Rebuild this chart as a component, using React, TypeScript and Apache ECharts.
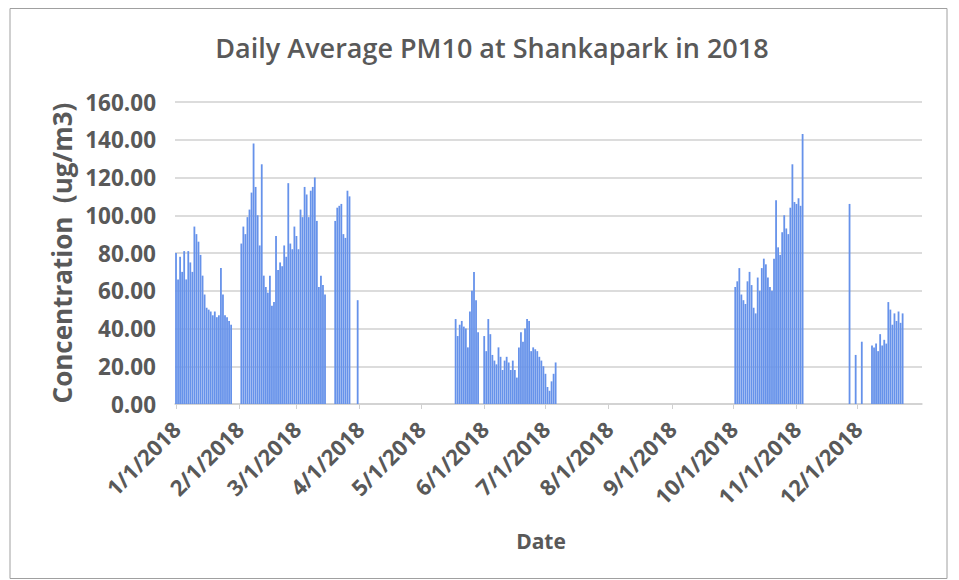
import React, { useEffect, useRef } from "react";
import * as echarts from "echarts";

// ---- Data (daily average PM10, ug/m3) ----
const monthStartDates = [
  "2018-01-01", "2018-02-01", "2018-03-01", "2018-04-01", "2018-05-01", "2018-06-01",
  "2018-07-01", "2018-08-01", "2018-09-01", "2018-10-01", "2018-11-01", "2018-12-01",
];
const monthLabels = [
  "1/1/2018", "2/1/2018", "3/1/2018", "4/1/2018", "5/1/2018", "6/1/2018",
  "7/1/2018", "8/1/2018", "9/1/2018", "10/1/2018", "11/1/2018", "12/1/2018",
];

const janStart = "2018-01-01";
const janValues = [80, 66, 78, 70, 81, 66, 81, 75, 70, 94, 90, 86, 79, 68, 58, 51, 50, 49, 47, 49, 46, 47, 72, 58, 47, 46, 44, 42];

const febMarStart = "2018-02-02";
const febMarValues = [85, 94, 90, 99, 103, 112, 138, 115, 100, 84, 127, 68, 62, 59, 68, 52, 54, 89, 71, 75, 73, 84, 78, 117, 85, 82, 94, 89, 82, 103, 99, 115, 111, 99, 113, 115, 120, 97, 62, 68, 63, 58];

const lateMarStart = "2018-03-20";
const lateMarValues = [97, 104, 105, 106, 90, 88, 113, 110];

const mar31Start = "2018-03-31";
const mar31Values = [55];

const mayStart = "2018-05-18";
const mayValues = [45, 36, 42, 44, 41, 40, 30, 49, 60, 70, 55, 38];

const junJulStart = "2018-06-01";
const junJulValues = [36, 28, 45, 37, 26, 23, 21, 30, 25, 18, 23, 25, 22, 18, 23, 18, 14, 30, 38, 33, 40, 45, 44, 28, 30, 29, 28, 25, 23, 20, 16, 9, 7, 12, 16, 22];

const octNovStart = "2018-10-02";
const octNovValues = [62, 65, 72, 58, 55, 53, 65, 70, 63, 51, 48, 67, 60, 72, 77, 74, 67, 62, 60, 77, 108, 83, 79, 91, 100, 93, 90, 104, 127, 107, 106, 109, 105, 143];

const lateNovDates = ["2018-11-27", "2018-11-30", "2018-12-03"];
const lateNovValues = [106, 26, 33];

const decStart = "2018-12-08";
const decValues = [31, 30, 32, 28, 37, 31, 34, 32, 54, 50, 42, 48, 44, 49, 43, 48];

// ---- helpers ----
const DAY = 86400000;
const yearStart = Date.UTC(2018, 0, 1);
function dayIndex(iso: string): number {
  const [y, m, d] = iso.split("-").map(Number);
  return Math.round((Date.UTC(y, m - 1, d) - yearStart) / DAY);
}
function segment(start: string, values: number[]): [number, number][] {
  const s = dayIndex(start);
  return values.map((v, i) => [s + i, v]);
}

const seriesData: [number, number][] = [
  ...segment(janStart, janValues),
  ...segment(febMarStart, febMarValues),
  ...segment(lateMarStart, lateMarValues),
  ...segment(mar31Start, mar31Values),
  ...segment(mayStart, mayValues),
  ...segment(junJulStart, junJulValues),
  ...segment(octNovStart, octNovValues),
  ...lateNovDates.map((d, i) => [dayIndex(d), lateNovValues[i]] as [number, number]),
  ...segment(decStart, decValues),
];

const monthDays = monthStartDates.map(dayIndex);

const FONT = "'Open Sans', 'Liberation Sans', sans-serif";
const TEXT = "#595959";

export default function App() {
  const ref = useRef<HTMLDivElement>(null);
  useEffect(() => {
    if (!ref.current) return;
    const chart = echarts.init(ref.current, null, { renderer: "svg" });
    chart.setOption({
      animation: false,
      backgroundColor: "#ffffff",
      textStyle: { fontFamily: FONT },
      title: {
        text: "Daily Average PM10 at Shankapark in 2018",
        left: 479,
        top: 21,
        textAlign: "center",
        textStyle: { fontFamily: FONT, fontSize: 27, fontWeight: 600, color: TEXT },
      },
      grid: { left: 167, top: 94, width: 747, height: 302, containLabel: false },
      xAxis: {
        type: "value",
        min: -0.5,
        max: 365.5,
        splitLine: { show: false },
        axisLine: { show: true, lineStyle: { color: "#d0d0d0", width: 1.5 } },
        axisTick: {
          show: true,
          customValues: monthDays,
          length: 5,
          lineStyle: { color: "#d0d0d0" },
        },
        axisLabel: {
          customValues: monthDays,
          rotate: 45,
          margin: 21,
          fontSize: 22,
          fontWeight: "bold",
          color: TEXT,
          fontFamily: FONT,
          formatter: (v: number) => {
            const i = monthDays.indexOf(Math.round(v));
            return i >= 0 ? monthLabels[i] : "";
          },
        },
      },
      yAxis: {
        type: "value",
        min: 0,
        max: 160,
        interval: 20,
        axisLine: { show: false },
        axisTick: { show: false },
        splitLine: { lineStyle: { color: "#d0d0d0", width: 1.5 } },
        axisLabel: {
          margin: 19,
          fontSize: 22.5,
          fontWeight: "bold",
          color: TEXT,
          fontFamily: FONT,
          formatter: (v: number) => v.toFixed(2),
        },
      },
      series: [
        {
          type: "bar",
          data: seriesData,
          barWidth: 1.8,
          itemStyle: { color: "#6692ea" },
        },
      ],
      graphic: [
        {
          type: "rect",
          shape: { x: 2, y: 0.5, width: 937, height: 570 },
          style: { fill: "none", stroke: "#a0a0a0", lineWidth: 1 },
          silent: true,
        },
        {
          type: "text",
          x: 54,
          y: 245,
          rotation: Math.PI / 2,
          style: {
            text: "Concentration  (ug/m3)",
            fontFamily: FONT,
            fontSize: 26,
            fontWeight: "bold",
            fill: TEXT,
            textAlign: "center",
            textVerticalAlign: "middle",
          },
        },
        {
          type: "text",
          x: 533,
          y: 533,
          style: {
            text: "Date",
            fontFamily: FONT,
            fontSize: 21,
            fontWeight: "bold",
            fill: TEXT,
            textAlign: "center",
            textVerticalAlign: "middle",
          },
        },
      ],
    });
    return () => chart.dispose();
  }, []);
  return <div ref={ref} style={{ width: 943, height: 572 }} />;
}
